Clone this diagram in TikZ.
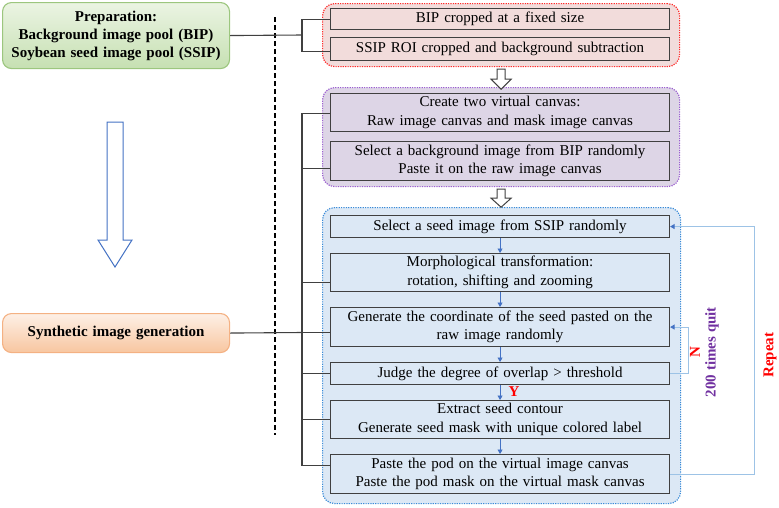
\documentclass[tikz,border=0pt]{standalone}
\usepackage{fontspec}
\setmainfont{Liberation Serif}
\usetikzlibrary{arrows.meta,calc}
\definecolor{redf}{HTML}{F2DCDB}
\definecolor{redb}{HTML}{FF2A2A}
\definecolor{purpf}{HTML}{DDD5E6}
\definecolor{purpb}{HTML}{9B5FD0}
\definecolor{bluef}{HTML}{DCE8F5}
\definecolor{blueb}{HTML}{3A8BD8}
\definecolor{boxline}{HTML}{404040}
\definecolor{arrowblue}{HTML}{4472C4}
\definecolor{fbline}{HTML}{9DC3E6}
\definecolor{greent}{HTML}{EBF4E3}
\definecolor{greenbt}{HTML}{C6E0B2}
\definecolor{greenb}{HTML}{9CC67E}
\definecolor{oranget}{HTML}{FDF0E6}
\definecolor{orangebt}{HTML}{F8C6A0}
\definecolor{orangeb}{HTML}{F4B183}
\definecolor{quitpurple}{HTML}{7030A0}
\begin{document}
\begin{tikzpicture}[x=1pt,y=-1pt,
  every node/.style={font=\fontsize{15}{18.5}\selectfont, inner sep=0pt},
  ibox/.style={draw=boxline, line width=1.1pt, minimum width=339pt, text width=335pt,
    align=center, anchor=north west},
  grp/.style={line width=1.2pt, dash pattern=on 1.2pt off 1.2pt, rounded corners=12pt,
    anchor=north west, minimum width=357pt},
  sidebox/.style={rounded corners=9pt, line width=1.1pt, anchor=north west,
    minimum width=227pt, text width=225pt, align=center, font=\fontsize{15}{18}\selectfont\bfseries},
  brk/.style={draw=boxline, line width=1.1pt},
  flow/.style={draw=arrowblue, line width=0.8pt, -{Triangle[width=5pt,length=4.5pt]}},
  fb/.style={draw=fbline, line width=1pt, -{Triangle[width=5pt,length=4.5pt,color=arrowblue]}},
  hollow/.style={draw=boxline, fill=white, line width=1pt, line join=miter},
  bigarrow/.style={draw=arrowblue, fill=white, line width=1pt, line join=miter},
  lab/.style={font=\fontsize{15}{18}\selectfont\bfseries}
]
\useasboundingbox (0,0) rectangle (779,507);

% groups
\node[grp, draw=redb, fill=redf, minimum height=63pt] (redg) at (322,3) {};
\node[grp, draw=purpb, fill=purpf, minimum height=99pt] (purg) at (322,87) {};
\node[grp, draw=blueb, fill=bluef, minimum height=296pt, minimum width=358pt] (blug) at (322,207) {};

% inner boxes
\node[ibox, fill=redf, minimum height=21pt] (r1) at (330,8) {BIP cropped at a fixed size};
\node[ibox, fill=redf, minimum height=23pt] (r2) at (330,37) {SSIP ROI cropped and background subtraction};
\node[ibox, fill=purpf, minimum height=38pt] (p1) at (330,93) {Create two virtual canvas:\\Raw image canvas and mask image canvas};
\node[ibox, fill=purpf, minimum height=39pt] (p2) at (330,141) {Select a background image from BIP randomly\\Paste it on the raw image canvas};
\node[ibox, fill=bluef, minimum height=22pt] (b1) at (330,215) {Select a seed image from SSIP randomly};
\node[ibox, fill=bluef, minimum height=38pt] (b2) at (330,253) {Morphological transformation:\\rotation, shifting and zooming};
\node[ibox, fill=bluef, minimum height=39pt] (b3) at (330,307) {Generate the coordinate of the seed pasted on the\\raw image randomly};
\node[ibox, fill=bluef, minimum height=22pt] (b4) at (330,362) {Judge the degree of overlap > threshold};
\node[ibox, fill=bluef, minimum height=38pt] (b5) at (330,400) {Extract seed contour\\Generate seed mask with unique colored label};
\node[ibox, fill=bluef, minimum height=39pt] (b6) at (330,454) {Paste the pod on the virtual image canvas\\Paste the pod mask on the virtual mask canvas};

% side boxes
\node[sidebox, draw=greenb, top color=greent, bottom color=greenbt, minimum height=66pt] (prep) at (2,2)
  {Preparation:\\Background image pool (BIP)\\Soybean seed image pool (SSIP)};
\node[sidebox, draw=orangeb, top color=oranget, bottom color=orangebt, minimum height=39pt] (syn) at (2,313)
  {Synthetic image generation};

% dashed separator
\coordinate (d1) at (275,17);
\coordinate (d2) at (275,435);
\draw[line width=1.2pt, dash pattern=on 5pt off 3pt] (d1) -- (d2);

% brackets
\coordinate (kt) at (302,35);
\draw[brk] (prep.east) -- (kt);
\draw[brk] (kt) |- (r1.west);
\draw[brk] (kt) |- ($(r2.west)+(0,2)$);
\coordinate (kb) at (302,332.5);
\draw[brk] (syn.east) -- (kb);
\draw[brk] (kb) |- ($(p1.west)+(0,1)$);
\draw[brk] (kb) |- ($(p2.west)+(0,7.5)$);
\draw[brk] (kb) |- ($(b2.west)+(0,10)$);
\draw[brk] (kb) |- ($(b3.west)+(0,5.5)$);
\draw[brk] (kb) |- (b4.west);
\draw[brk] (kb) |- (b5.west);
\draw[brk] (kb) |- ($(b6.west)+(0,-8.5)$);

% hollow arrows between groups
\draw[hollow, shift={($(redg.south)+(0,2)$)}]
  (-4,0) -- (4,0) -- (4,10) -- (10,10) -- (0,20) -- (-10,10) -- (-4,10) -- cycle;
\draw[hollow, shift={($(purg.south)+(0,2)$)}]
  (-4,0) -- (4,0) -- (4,9) -- (10,9) -- (0,18) -- (-10,9) -- (-4,9) -- cycle;

% big left arrow
\coordinate (ba) at (115,122);
\draw[bigarrow, shift={(ba)}]
  (-8,0) -- (8,0) -- (8,118) -- (17,118) -- (0,145) -- (-17,118) -- (-8,118) -- cycle;

% flow arrows
\draw[flow] (b1) -- (b2);
\draw[flow] (b2) -- (b3);
\draw[flow] (b3) -- (b4);
\draw[flow] (b4) -- (b5);
\draw[flow] (b5) -- (b6);
\node[lab, text=red] (ylab) at (514,392) {Y};

% feedback loops
\draw[fb] (b4.east) -- ++(18,0) |- (b3.east);
\draw[fb] (b6.east) -- ++(84,0) |- (b1.east);
\node[lab, text=red, rotate=90] (nlab) at (695,352) {N};
\node[lab, text=quitpurple, rotate=90] (qlab) at (712,352) {200 times quit};
\node[lab, text=red, rotate=90] (rlab) at (770,355) {Repeat};
\end{tikzpicture}
\end{document}
